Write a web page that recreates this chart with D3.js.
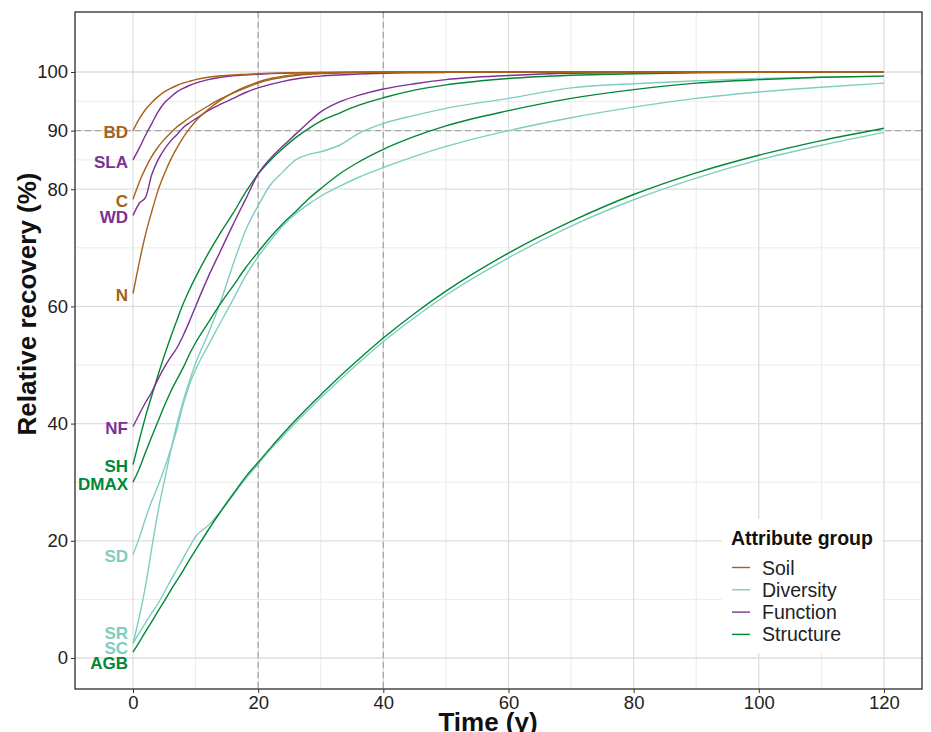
<!DOCTYPE html>
<html>
<head>
<meta charset="utf-8">
<script src="https://cdn.jsdelivr.net/npm/d3@7"></script>
<style>
  body { margin: 0; background: #fff; }
  svg { display: block; font-family: "Liberation Sans", Arial, sans-serif; }
</style>
</head>
<body>
<svg width="931" height="732"></svg>
<script>
// time since abandonment (y)
var years = [0,1,2,3,4,5,6,7,8,9,10,12,14,16,18,20,22,24,26,28,30,33,36,40,45,50,60,70,80,90,100,110,120]

// soil
var BD  = [90,92,93.6,94.8,95.8,96.6,97.2,97.7,98.1,98.4,98.7,99.1,99.35,99.5,99.6,99.7,99.78,99.84,99.88,99.91,99.93,99.95,99.97,99.98,99.99,100,100,100,100,100,100,100,100]
var C   = [78.3,81.2,83.6,85.6,87.2,88.5,89.6,90.6,91.4,92.2,92.9,94.2,95.4,96.4,97.3,98.1,98.7,99.1,99.4,99.6,99.72,99.83,99.9,99.95,99.98,99.99,100,100,100,100,100,100,100]
var N   = [62.2,67.5,72.3,76.2,79.8,82.6,85,87,88.8,90.3,91.6,93.6,95.2,96.5,97.5,98.3,98.9,99.3,99.55,99.7,99.8,99.9,99.94,99.97,99.99,100,100,100,100,100,100,100,100]
// diversity
var SD  = [17.6,20.5,23.8,26.8,29.4,32.3,35.5,39,43.2,46.6,49.2,53.3,57.3,61.2,65.2,68.5,71.3,73.8,75.8,77.4,78.8,80.5,82,83.7,85.6,87.3,90,92.2,94,95.5,96.6,97.4,98.1]
var SR  = [2.5,7,12.3,18.8,25,30.2,35.2,39.8,43.8,47.2,50.3,55.3,60.8,67.2,73,77.2,80.8,83,85,85.9,86.4,87.5,89.5,91.2,92.6,93.8,95.5,97.3,98,98.5,98.9,99.1,99.3]
var SC  = [2.5,4.3,6,7.7,9.3,11.2,13.2,15.1,17,18.9,20.7,22.6,25,27.8,30.6,33.1,35.6,37.9,40.2,42.3,44.4,47.4,50.3,54,58.1,61.9,68.3,73.7,78.2,81.9,85,87.5,89.7]
// function
var SLA = [85,87,89.2,91.2,93.2,94.7,95.7,96.6,97.2,97.7,98.1,98.7,99.1,99.35,99.5,99.62,99.72,99.8,99.85,99.88,99.91,99.94,99.96,99.98,99.99,100,100,100,100,100,100,100,100]
var WD  = [75.5,77.6,78.6,82.5,85,86.8,88.2,89.3,90.5,91.3,92,93.4,94.5,95.5,96.5,97.3,97.9,98.4,98.8,99.1,99.3,99.5,99.65,99.8,99.88,99.93,99.97,100,100,100,100,100,100]
var NF  = [39.5,41.6,43.6,45.4,47.6,49.6,51.3,52.9,55,57.4,60,65,69.5,74,78.3,82.6,85.3,87.4,89.4,91.4,93.2,94.9,96,97.1,98,98.7,99.4,99.8,99.9,99.95,100,100,100]
// structure
var SH   = [33,37.2,41.2,44.8,48.3,51.6,54.7,57.6,60.4,62.8,65,69,72.6,75.9,79.5,82.6,85,87,88.8,90.3,91.6,93,94.3,95.6,96.9,97.8,98.9,99.45,99.7,99.85,99.93,99.97,100]
var DMAX = [30,32.3,35.1,37.8,40.4,43,45.4,47.5,49.5,51.8,53.8,57.2,60.5,63.5,66.6,69.3,71.9,74.2,76.2,78.3,80.1,82.6,84.6,86.8,89,90.8,93.4,95.5,97,98.1,98.7,99.1,99.3]
var AGB  = [1,2.7,4.5,6.2,8,9.7,11.5,13.2,14.9,16.7,18.4,21.8,25,28,30.9,33.4,35.9,38.3,40.6,42.8,44.9,48,50.9,54.6,58.8,62.6,69.1,74.5,79.1,82.8,85.8,88.3,90.4]

var seriesNames = ["BD","C","N","SD","SR","SC","SLA","WD","NF","SH","DMAX","AGB"]
var seriesGroup = ["Soil","Soil","Soil","Diversity","Diversity","Diversity","Function","Function","Function","Structure","Structure","Structure"]
var seriesValues = [BD,C,N,SD,SR,SC,SLA,WD,NF,SH,DMAX,AGB]

var groups = ["Soil","Diversity","Function","Structure"]
var groupColors = ["#A6611A","#80CDC1","#7B3294","#008837"]
var drawOrder = ["Diversity","Structure","Function","Soil"]

var xTicks = [0,20,40,60,80,100,120]
var xMinor = [10,30,50,70,90,110]
var yTicks = [0,20,40,60,80,90,100]
var yMinor = [10,30,50,70,85,95]
var refYears = [20,40]
var refRecovery = 90

var svg = d3.select("svg")
// panel box (window.top is read-only, so no bare "top")
var pLeft = 75, pRight = 922, pTop = 12, pBottom = 689

var x = d3.scaleLinear().domain([-9.27, 126.08]).range([pLeft, pRight])
var y = d3.scaleLinear().domain([-5.29, 110.24]).range([pBottom, pTop])
var color = d3.scaleOrdinal().domain(groups).range(groupColors)

var series = seriesNames.map(function(name, i){
  return {
    name: name,
    group: seriesGroup[i],
    points: years.map(function(t, j){ return [t, seriesValues[i][j]] })
  }
})

// grid
var grid = svg.append("g")
grid.selectAll(".xminor").data(xMinor).enter().append("line")
  .attr("x1", d => x(d)).attr("x2", d => x(d)).attr("y1", pTop).attr("y2", pBottom)
  .attr("stroke", "#ebebeb").attr("stroke-width", 1)
grid.selectAll(".yminor").data(yMinor).enter().append("line")
  .attr("y1", d => y(d)).attr("y2", d => y(d)).attr("x1", pLeft).attr("x2", pRight)
  .attr("stroke", "#ebebeb").attr("stroke-width", 1)
grid.selectAll(".xmajor").data(xTicks).enter().append("line")
  .attr("x1", d => x(d)).attr("x2", d => x(d)).attr("y1", pTop).attr("y2", pBottom)
  .attr("stroke", "#dedede").attr("stroke-width", 1.3)
grid.selectAll(".ymajor").data(yTicks).enter().append("line")
  .attr("y1", d => y(d)).attr("y2", d => y(d)).attr("x1", pLeft).attr("x2", pRight)
  .attr("stroke", "#dedede").attr("stroke-width", 1.3)

// reference lines
svg.selectAll(".vref").data(refYears).enter().append("line")
  .attr("x1", d => x(d)).attr("x2", d => x(d)).attr("y1", pTop).attr("y2", pBottom)
  .attr("stroke", "#a6a6a6").attr("stroke-width", 1.3).attr("stroke-dasharray", "6,4")
svg.append("line")
  .attr("x1", pLeft).attr("x2", pRight).attr("y1", y(refRecovery)).attr("y2", y(refRecovery))
  .attr("stroke", "#a6a6a6").attr("stroke-width", 1.3).attr("stroke-dasharray", "6,4")

// lines
var line = d3.line().x(d => x(d[0])).y(d => y(d[1])).curve(d3.curveMonotoneX)
var ordered = series.slice().sort(function(a, b){
  return drawOrder.indexOf(a.group) - drawOrder.indexOf(b.group)
})
svg.append("g").selectAll("path").data(ordered).enter().append("path")
  .attr("d", d => line(d.points))
  .attr("fill", "none")
  .attr("stroke", d => color(d.group))
  .attr("stroke-width", 1.4)

// start labels, pushed apart where they collide
function spread(items, gap){
  items.sort((a, b) => a.want - b.want)
  var blocks = items.map(d => ({ members: [d], mid: d.want }))
  var moved = true
  while (moved) {
    moved = false
    for (var i = 1; i < blocks.length; i++) {
      var a = blocks[i - 1], b = blocks[i]
      var aEnd = a.mid + (a.members.length - 1) * gap / 2
      var bStart = b.mid - (b.members.length - 1) * gap / 2
      if (bStart - aEnd < gap) {
        var m = a.members.concat(b.members)
        blocks.splice(i - 1, 2, { members: m, mid: d3.mean(m, d => d.want) })
        moved = true
        break
      }
    }
  }
  blocks.forEach(function(bl){
    var start = bl.mid - (bl.members.length - 1) * gap / 2
    bl.members.forEach(function(d, k){ d.ly = start + k * gap })
  })
  return items
}
var labels = spread(series.map(d => ({ name: d.name, group: d.group, want: y(d.points[0][1]) })), 15)
svg.append("g").selectAll("text").data(labels).enter().append("text")
  .attr("x", x(0) - 5)
  .attr("y", d => d.ly + 1.5)
  .attr("dy", "0.36em")
  .attr("text-anchor", "end")
  .attr("font-size", 17)
  .attr("font-weight", "bold")
  .attr("fill", d => color(d.group))
  .text(d => d.name)

// frame
svg.append("rect")
  .attr("x", pLeft).attr("y", pTop).attr("width", pRight - pLeft).attr("height", pBottom - pTop)
  .attr("fill", "none").attr("stroke", "#1a1a1a").attr("stroke-width", 1.2)

// axes
var xAxis = svg.append("g").attr("transform", "translate(0," + pBottom + ")")
  .call(d3.axisBottom(x).tickValues(xTicks).tickSize(4).tickPadding(3))
var yAxis = svg.append("g").attr("transform", "translate(" + pLeft + ",0)")
  .call(d3.axisLeft(y).tickValues(yTicks).tickSize(4).tickPadding(3))
;[xAxis, yAxis].forEach(function(ax){
  ax.select(".domain").remove()
  ax.selectAll(".tick line").attr("stroke", "#333")
  ax.selectAll(".tick text").attr("fill", "#222").attr("font-size", 18.5)
    .attr("font-family", "Liberation Sans, Arial, sans-serif")
})

svg.append("text")
  .attr("x", 488).attr("y", 731)
  .attr("text-anchor", "middle")
  .attr("font-size", 26).attr("font-weight", "bold").attr("fill", "#111")
  .text("Time (y)")
svg.append("text")
  .attr("transform", "translate(36,304) rotate(-90)")
  .attr("text-anchor", "middle")
  .attr("font-size", 26).attr("font-weight", "bold").attr("fill", "#111")
  .text("Relative recovery (%)")

// legend
var legend = svg.append("g")
legend.append("rect")
  .attr("x", 722).attr("y", 519).attr("width", 160).attr("height", 134)
  .attr("fill", "#fff")
legend.append("text")
  .attr("x", 731).attr("y", 545)
  .attr("font-size", 19.5).attr("font-weight", "bold").attr("fill", "#111")
  .text("Attribute group")
var rows = legend.selectAll(".item").data(groups).enter().append("g")
  .attr("transform", (d, i) => "translate(0," + (567.5 + i * 22.3) + ")")
rows.append("line")
  .attr("x1", 732).attr("x2", 750)
  .attr("stroke", d => color(d)).attr("stroke-width", 1.4)
rows.append("text")
  .attr("x", 762).attr("dy", "0.36em")
  .attr("font-size", 19.5).attr("fill", "#222")
  .text(d => d)
</script>
</body>
</html>
